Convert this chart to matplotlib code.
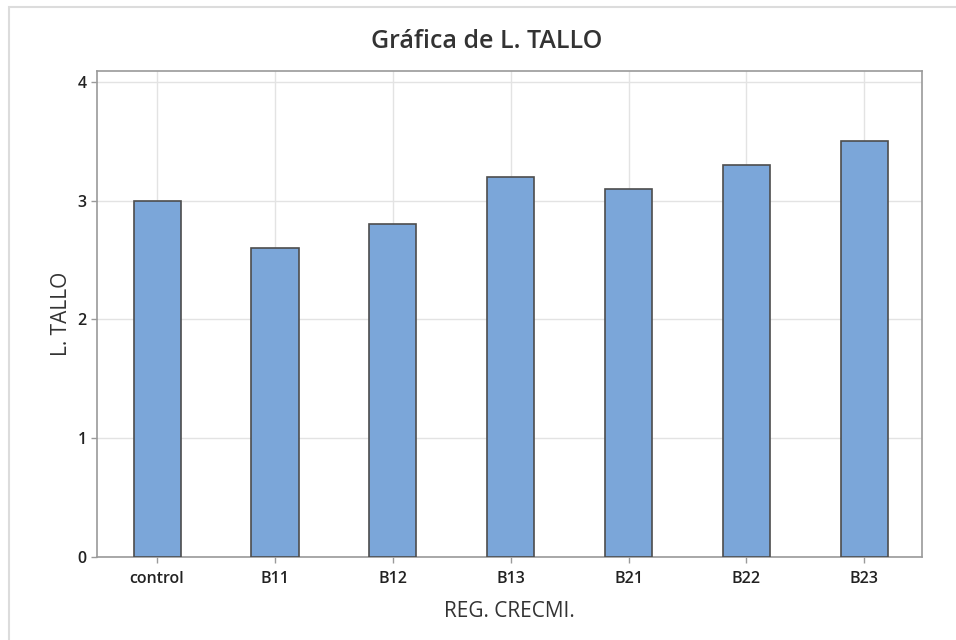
import matplotlib
matplotlib.use("Agg")
import matplotlib.pyplot as plt
from matplotlib.patches import Rectangle

categories = ["control", "B11", "B12", "B13", "B21", "B22", "B23"]
values = [3.0, 2.6, 2.8, 3.2, 3.1, 3.3, 3.5]
yticks = [0, 1, 2, 3, 4]

plt.rcParams['font.family'] = ['Open Sans', 'DejaVu Sans']

fig = plt.figure(figsize=(9.56, 6.4), dpi=100)
ax = fig.add_axes([97/956, 1 - 557/640, (922-97)/956, (557-71)/640])

x = list(range(len(categories)))
ax.bar(x, values, width=0.4, color="#7BA6D9", edgecolor="#4d4d4d", linewidth=1.2, zorder=3)

ax.set_xlim(-0.51, 6.49)
ax.set_ylim(0, 4.09)
ax.set_yticks(yticks)
ax.set_xticks(x)
ax.set_xticklabels(categories)
ax.grid(True, color="#e3e3e3", linewidth=1, zorder=0)
ax.set_axisbelow(True)
for s in ax.spines.values():
    s.set_color("#9a9a9a")
    s.set_linewidth(1.2)
ax.tick_params(axis='both', colors="#9a9a9a", labelcolor="#222222", length=4, width=1, labelsize=11.5)
ax.tick_params(axis='x', pad=6)
for lbl in ax.get_xticklabels() + ax.get_yticklabels():
    lbl.set_fontweight("semibold")

ax.set_xlabel("REG. CRECMI.", fontsize=15, color="#333333", labelpad=10)
ax.set_ylabel("L. TALLO", fontsize=15, color="#333333", labelpad=4)
fig.text(487/956, 1 - 42/640, "Gráfica de L. TALLO", fontsize=18, fontweight="semibold",
         color="#333333", ha="center", va="center")

fig.patches.append(Rectangle((9/956, -0.1), 1.1, 1 - 7/640 + 0.1, transform=fig.transFigure,
                             fill=False, edgecolor="#dcdcdc", linewidth=1.5))

fig.savefig("out.png", dpi=100)
